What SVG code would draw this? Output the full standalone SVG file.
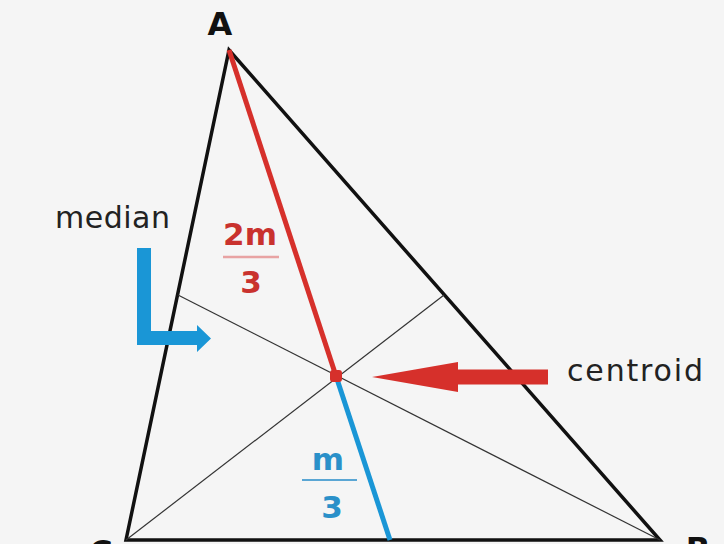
<svg xmlns="http://www.w3.org/2000/svg" width="724" height="544" viewBox="0 0 724 544">
<style>
.side{stroke:#111;stroke-width:3.5;fill:none;stroke-linecap:round}
.thin{stroke:#333;stroke-width:1.2;fill:none}
.lbl{font-family:"DejaVu Sans",sans-serif;font-size:30px;fill:#222}
.vtx{font-family:"DejaVu Sans",sans-serif;font-weight:bold;font-size:32px;fill:#111;text-anchor:middle}
.frac{font-family:"DejaVu Sans",sans-serif;font-weight:bold;font-size:31px;text-anchor:middle}
</style>
<rect width="724" height="544" fill="#f5f5f5"/>
<g id="connectors">
<polygon class="side" points="229,50 660,540 126,540" stroke-linejoin="miter"/>
<line class="thin" x1="660" y1="540" x2="178" y2="295"/>
<line class="thin" x1="126" y1="540" x2="444" y2="295"/>
<line x1="229" y1="50" x2="336" y2="376" stroke="#d6302b" stroke-width="5"/>
<line x1="336" y1="376" x2="390" y2="540" stroke="#1a96d6" stroke-width="5"/>
</g>
<g id="vertex-A"><text class="vtx" x="220" y="35">A</text></g>
<g id="vertex-B"><text class="vtx" x="698" y="560">B</text></g>
<g id="vertex-C"><text class="vtx" x="101" y="563">C</text></g>
<g id="centroid"><rect x="330" y="370" width="12" height="12" rx="3" fill="#d6302b"/></g>
<g id="label-2m3" fill="#c9322e">
<text class="frac" x="250" y="245" fill="#c9322e">2m</text>
<line x1="223" y1="257" x2="279" y2="257" stroke="#e8a3a3" stroke-width="2.5"/>
<text class="frac" x="251" y="293" fill="#c9322e">3</text>
</g>
<g id="label-m3">
<text class="frac" x="328" y="470" fill="#2a90c9">m</text>
<line x1="302" y1="480" x2="357" y2="480" stroke="#5aa6d4" stroke-width="2"/>
<text class="frac" x="332" y="518" fill="#2a90c9">3</text>
</g>
<g id="median-label">
<text class="lbl" x="55" y="228" textLength="115" lengthAdjust="spacing">median</text>
<path d="M137,248 H151 V331 H197 V325 L211,338.5 L197,352 V345 H137 Z" fill="#1a96d6"/>
</g>
<g id="centroid-label">
<text class="lbl" x="567" y="381" textLength="136" lengthAdjust="spacing">centroid</text>
<polygon points="372,377 458,362 458,369.5 548,369.5 548,384.5 458,384.5 458,392" fill="#d6302b"/>
</g>
</svg>
